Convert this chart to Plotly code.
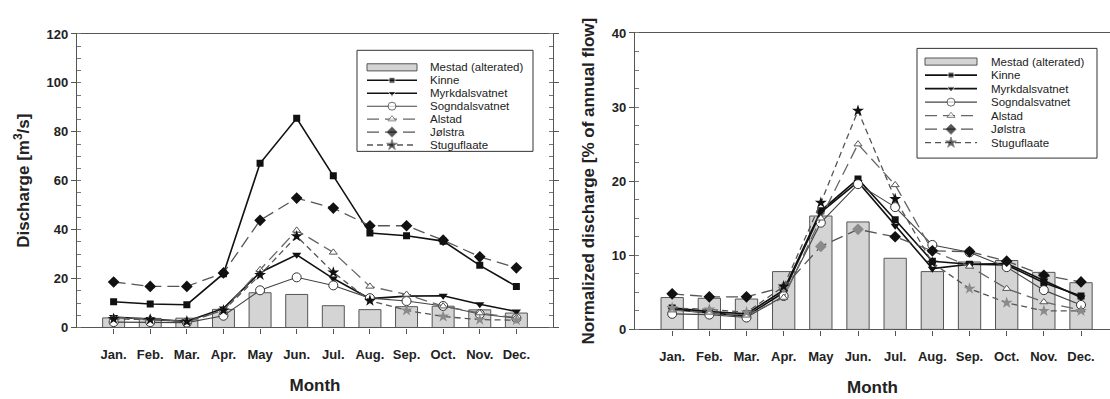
import plotly.graph_objects as go

months = ["Jan.", "Feb.", "Mar.", "Apr.", "May", "Jun.", "Jul.", "Aug.", "Sep.", "Oct.", "Nov.", "Dec."]

# Left panel: discharge [m3/s]
mestad_q = [3.9, 3.7, 3.8, 7.4, 14.2, 13.5, 8.9, 7.3, 8.5, 8.7, 7.2, 5.9]
kinne_q = [10.5, 9.6, 9.3, 22.0, 67.1, 85.5, 62.0, 38.6, 37.5, 35.3, 25.4, 16.8]
myrkdal_q = [4.3, 3.5, 2.5, 7.8, 22.5, 29.7, 20.0, 11.8, 12.8, 13.0, 9.5, 6.5]
sogndal_q = [2.2, 2.2, 2.0, 4.8, 15.2, 20.5, 17.2, 12.0, 10.8, 8.8, 5.5, 3.8]
alstad_q = [4.0, 3.7, 2.2, 7.0, 23.6, 39.7, 30.7, 16.8, 13.5, 8.7, 5.9, 4.0]
jolstra_q = [18.6, 16.8, 16.8, 22.3, 43.8, 52.9, 48.8, 41.6, 41.6, 35.7, 28.9, 24.4]
stugu_q = [3.5, 3.2, 2.5, 7.0, 21.5, 37.3, 22.5, 11.0, 7.0, 4.5, 3.2, 3.0]

# Right panel: normalized discharge [% of annual flow]
mestad_n = [4.3, 4.2, 4.1, 7.8, 15.3, 14.5, 9.6, 7.8, 9.1, 9.3, 7.7, 6.3]
kinne_n = [2.9, 2.4, 2.1, 5.3, 16.0, 20.3, 14.8, 9.2, 8.8, 8.7, 6.3, 4.5]
myrkdal_n = [2.7, 2.2, 1.8, 5.0, 15.8, 19.9, 14.0, 8.2, 8.8, 8.9, 6.6, 4.3]
sogndal_n = [2.1, 2.0, 1.6, 4.5, 14.4, 19.6, 16.5, 11.4, 10.4, 8.4, 5.3, 3.3]
alstad_n = [2.6, 2.3, 1.9, 4.3, 15.0, 25.0, 19.5, 10.6, 8.5, 5.5, 3.7, 2.6]
jolstra_n = [4.8, 4.4, 4.4, 5.7, 11.2, 13.5, 12.5, 10.6, 10.5, 9.2, 7.3, 6.4]
stugu_n = [2.9, 2.7, 2.3, 5.8, 17.1, 29.5, 17.6, 9.0, 5.5, 3.6, 2.5, 2.5]

names = ["Mestad (alterated)", "Kinne", "Myrkdalsvatnet", "Sogndalsvatnet", "Alstad", "Jølstra", "Stuguflaate"]

FONT = "Liberation Sans, Arial, sans-serif"
W, H = 1110, 399

BLACK = "#111111"
GREY = "#8a8a8a"

line_styles = {
    "Kinne": dict(line=dict(color=BLACK, width=1.6, dash="solid"),
                  marker=dict(symbol="square", size=7, color=BLACK)),
    "Myrkdalsvatnet": dict(line=dict(color=BLACK, width=1.6, dash="solid"),
                           marker=dict(symbol="triangle-down", size=8, color=BLACK)),
    "Sogndalsvatnet": dict(line=dict(color="#444444", width=1.1, dash="solid"),
                           marker=dict(symbol="circle", size=9, color="white",
                                       line=dict(color="#333333", width=1))),
    "Alstad": dict(line=dict(color="#666666", width=1.3, dash="12px,6px"),
                   marker=dict(symbol="triangle-up", size=7, color="white",
                               line=dict(color="#555555", width=1))),
    "Jølstra": dict(line=dict(color="#555555", width=1.3, dash="12px,6px"),
                    marker=dict(symbol="diamond", size=9, color=BLACK)),
    "Stuguflaate": dict(line=dict(color="#555555", width=1.3, dash="6px,4px"),
                        marker=dict(symbol="star", size=9, color=BLACK)),
}

# per-point marker tints seen in the reference (some markers are printed grey)
marker_tints = {
    ("x", "Stuguflaate"): [BLACK] * 8 + [GREY] * 4,
    ("x2", "Stuguflaate"): [GREY] * 3 + [BLACK] * 5 + [GREY] * 4,
    ("x2", "Jølstra"): [BLACK] * 3 + [GREY] * 3 + [BLACK] * 6,
}

fig = go.Figure()

def add_panel(xa, ya, bars, series):
    fig.add_trace(go.Bar(
        x=months, y=bars, name=names[0], xaxis=xa, yaxis=ya, showlegend=False,
        width=0.6, marker=dict(color="#d4d4d4", line=dict(color="#555555", width=1)),
    ))
    for nm, vals in zip(names[1:], series):
        st = line_styles[nm]
        mk = dict(st["marker"])
        if (xa, nm) in marker_tints:
            mk["color"] = marker_tints[(xa, nm)]
        fig.add_trace(go.Scatter(
            x=months, y=vals, name=nm, mode="lines+markers", xaxis=xa, yaxis=ya,
            showlegend=False, line=st["line"], marker=mk,
        ))

add_panel("x", "y", mestad_q, [kinne_q, myrkdal_q, sogndal_q, alstad_q, jolstra_q, stugu_q])
add_panel("x2", "y2", mestad_n, [kinne_n, myrkdal_n, sogndal_n, alstad_n, jolstra_n, stugu_n])

# ---- legends drawn on a pixel-unit overlay axis (x3/y3) ----
legend_marker_sizes = {"Kinne": 6, "Myrkdalsvatnet": 7, "Sogndalsvatnet": 8,
                       "Alstad": 7, "Jølstra": 8, "Stuguflaate": 8}
shapes = []
annotations = []

def add_legend(box, sym_x0, sym_x1, text_x, row0, row_gap):
    bx0, by0, bx1, by1 = box
    shapes.append(dict(type="rect", xref="x3", yref="y3", x0=bx0, y0=by0, x1=bx1, y1=by1,
                       line=dict(color="#333333", width=1), fillcolor="white", layer="below"))
    for i, nm in enumerate(names):
        yr = row0 + i * row_gap
        annotations.append(dict(xref="x3", yref="y3", x=text_x, y=yr, text=nm, showarrow=False,
                                xanchor="left", yanchor="middle",
                                font=dict(family=FONT, size=11.5, color="#222222")))
        if i == 0:
            shapes.append(dict(type="rect", xref="x3", yref="y3", x0=sym_x0, x1=sym_x1,
                               y0=yr - 3.7, y1=yr + 3.7, fillcolor="#d4d4d4",
                               line=dict(color="#555555", width=1), layer="above"))
            continue
        st = line_styles[nm]
        mk = dict(st["marker"])
        sz = legend_marker_sizes[nm]
        mk["size"] = [0, sz, 0]
        fig.add_trace(go.Scatter(
            x=[sym_x0, (sym_x0 + sym_x1) / 2, sym_x1], y=[yr, yr, yr],
            mode="lines+markers", xaxis="x3", yaxis="y3", showlegend=False,
            hoverinfo="skip", line=st["line"], marker=mk,
        ))

add_legend((357, 45, 533, 150), 367, 417, 428, 62.7, 13.45)
add_legend((917, 43, 1097, 157), 925, 977, 989, 56.7, 14.05)

tickfont = dict(family=FONT, size=13, color="#222222", weight="bold")
titlefont = dict(family=FONT, size=17, color="#222222", weight="bold")

def px_x(p):
    return p / W

def px_y(p):
    return 1 - p / H

common_x = dict(type="category", showline=True, linecolor="#555555", linewidth=1.2,
                ticks="outside", ticklen=5, tickcolor="#555555", tickfont=tickfont,
                showgrid=False, zeroline=False, ticklabelstandoff=10,
                title=dict(text="Month", font=titlefont, standoff=17))
common_y = dict(showline=True, linecolor="#555555", linewidth=1.2,
                ticks="outside", ticklen=5, tickcolor="#555555", tickfont=tickfont,
                showgrid=False, zeroline=False)

fig.update_layout(
    width=W, height=H,
    margin=dict(l=0, r=0, t=0, b=0),
    paper_bgcolor="white", plot_bgcolor="rgba(0,0,0,0)",
    showlegend=False,
    xaxis=dict(domain=[px_x(77), px_x(553)], range=[-1, 12], anchor="y",
               mirror=True, **common_x),
    yaxis=dict(domain=[px_y(333), px_y(28)], range=[0, 120], dtick=20, anchor="x",
               mirror="allticks",
               minor=dict(ticks="inside", ticklen=4, tickcolor="#777777", dtick=5),
               title=dict(text="Discharge [m<sup>3</sup>/s]", font=titlefont, standoff=12),
               **common_y),
    xaxis2=dict(domain=[px_x(635), 1.0], range=[-1, 11.78], anchor="y2",
                mirror=True, **common_x),
    yaxis2=dict(domain=[px_y(335), px_y(27)], range=[0, 40], dtick=10, anchor="x2",
                mirror=False,
                minor=dict(ticks="inside", ticklen=4, tickcolor="#777777", dtick=2.5),
                title=dict(text="Normalized discharge [% of annual flow]", font=titlefont, standoff=12),
                **common_y),
    xaxis3=dict(domain=[0, 1], range=[0, W], visible=False, fixedrange=True, anchor="y3"),
    yaxis3=dict(domain=[0, 1], range=[H, 0], visible=False, fixedrange=True, anchor="x3"),
    shapes=shapes,
    annotations=annotations,
    barmode="overlay",
)

fig.write_html("out.html")
